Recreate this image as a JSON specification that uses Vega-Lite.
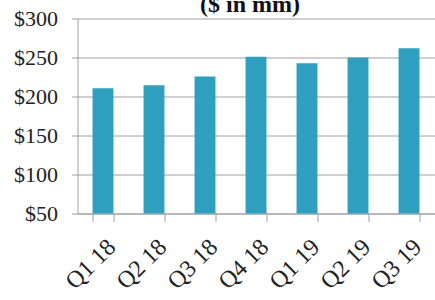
{
  "$schema": "https://vega.github.io/schema/vega-lite/v6.json",
  "autosize": {"type": "none"},
  "padding": {"left": 77.5, "top": 18.5, "right": 0.5, "bottom": 86.5},
  "width": 357,
  "height": 195,
  "background": "white",
  "title": {
    "text": "($ in mm)",
    "font": "Liberation Serif",
    "fontSize": 24,
    "fontWeight": "bold",
    "color": "#111111",
    "baseline": "alphabetic",
    "offset": 0,
    "dy": 28,
    "dx": -6
  },
  "data": {
    "values": [
      {"q": "Q1 18", "v": 210.5},
      {"q": "Q2 18", "v": 214.5},
      {"q": "Q3 18", "v": 225.5},
      {"q": "Q4 18", "v": 251},
      {"q": "Q1 19", "v": 242.5},
      {"q": "Q2 19", "v": 250},
      {"q": "Q3 19", "v": 262}
    ]
  },
  "mark": {"type": "bar", "color": "#2e9fbe"},
  "encoding": {
    "x": {
      "field": "q",
      "type": "nominal",
      "sort": null,
      "scale": {"paddingInner": 0.59, "paddingOuter": 0.295},
      "axis": {
        "title": null,
        "labelAngle": -45,
        "labelFont": "Liberation Serif",
        "labelFontSize": 24,
        "labelColor": "#222222",
        "tickBand": "extent",
        "tickSize": 8,
        "tickColor": "#a0a0a0",
        "domainColor": "#a0a0a0",
        "labelPadding": 13
      }
    },
    "y": {
      "field": "v",
      "type": "quantitative",
      "scale": {"domain": [50, 300], "nice": false, "zero": false},
      "axis": {
        "title": null,
        "values": [50, 100, 150, 200, 250, 300],
        "labelExpr": "'$' + datum.value",
        "labelFont": "Liberation Serif",
        "labelFontSize": 22,
        "labelColor": "#222222",
        "labelPadding": 14,
        "tickSize": 6,
        "tickColor": "#a0a0a0",
        "domainColor": "#a0a0a0",
        "gridColor": "#a0a0a0",
        "grid": true
      }
    },
    "y2": {"datum": 50}
  },
  "config": {"view": {"stroke": null}}
}
